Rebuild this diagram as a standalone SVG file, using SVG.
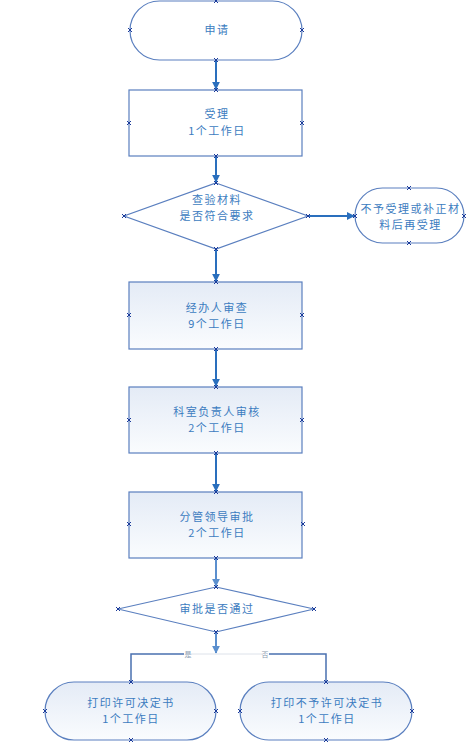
<svg xmlns="http://www.w3.org/2000/svg" width="472" height="745" viewBox="0 0 472 745">
<style>
.shape{stroke:#5a7fbf;stroke-width:1.2}
.plain{fill:#ffffff}
.grad{fill:url(#g)}
.t{font-family:"Noto Sans CJK SC","Liberation Sans",sans-serif;font-size:11px;letter-spacing:1.5px;fill:#3c7cc0;text-anchor:middle}
.lbl{font-family:"Noto Sans CJK SC","Liberation Serif",serif;font-size:7px;fill:#8a9ab0;text-anchor:middle}
.c{fill:none;stroke:#2a6fbd;stroke-width:2}
.c2{fill:none;stroke:#5b8fce;stroke-width:2}
.b{fill:none;stroke:#4a70b0;stroke-width:1.5}
.g{fill:none;stroke:#dde2ea;stroke-width:1}
.x{stroke:#1a3a9a;stroke-width:1;fill:none}
</style>
<defs>
<linearGradient id="g" x1="0" y1="0" x2="0" y2="1">
<stop offset="0" stop-color="#e4ebf6"/>
<stop offset="1" stop-color="#fafcfe"/>
</linearGradient>
<marker id="a" viewBox="0 0 10 10" refX="9" refY="5" markerWidth="4" markerHeight="4" orient="auto" markerUnits="strokeWidth">
<path d="M0,0 L10,5 L0,10 z" fill="#2a6fbd"/>
</marker>
<marker id="a2" viewBox="0 0 10 10" refX="9" refY="5" markerWidth="4" markerHeight="4" orient="auto" markerUnits="strokeWidth">
<path d="M0,0 L10,5 L0,10 z" fill="#5b8fce"/>
</marker>
<path id="xm" d="M-2,-2 L2,2 M-2,2 L2,-2"/>
</defs>

<g id="connectors">
<path class="c" d="M216,60 L216,89" marker-end="url(#a)"/>
<path class="c" d="M216,156 L216,182" marker-end="url(#a)"/>
<path class="c" d="M216,249 L216,281" marker-end="url(#a)"/>
<path class="c" d="M308,216 L354,216" marker-end="url(#a)"/>
<path class="c" d="M216,349 L216,386" marker-end="url(#a)"/>
<path class="c" d="M216,453 L216,491" marker-end="url(#a)"/>
<path class="c2" d="M216,558 L216,586" marker-end="url(#a2)"/>
<path class="c2" d="M216,632 L216,653" marker-end="url(#a2)"/>
<path class="g" d="M191,654 L262,654"/>
<path class="b" d="M184,654 L131,654 L131,682"/>
<path class="b" d="M269,654 L326,654 L326,682"/>
<text class="lbl" x="188" y="657">是</text>
<text class="lbl" x="265" y="657">否</text>
</g>

<g id="n1">
<rect class="shape plain" x="130" y="1" width="172" height="59" rx="29.5"/>
<text class="t" x="217" y="34">申请</text>
</g>
<g id="n2">
<rect class="shape plain" x="129" y="90" width="173" height="66"/>
<text class="t" x="217" y="118">受理</text>
<text class="t" x="217" y="134.5">1个工作日</text>
</g>
<g id="n3">
<polygon class="shape plain" points="216,183 308,216 216,249 124,216"/>
<text class="t" x="217" y="204">查验材料</text>
<text class="t" x="217" y="220">是否符合要求</text>
</g>
<g id="n4">
<rect class="shape plain" x="355" y="188" width="109" height="55" rx="27.5"/>
<text class="t" x="410.5" y="213">不予受理或补正材</text>
<text class="t" x="410.5" y="229">料后再受理</text>
</g>
<g id="n5">
<rect class="shape grad" x="129" y="282" width="173" height="67"/>
<text class="t" x="217" y="311.5">经办人审查</text>
<text class="t" x="217" y="327.5">9个工作日</text>
</g>
<g id="n6">
<rect class="shape grad" x="129" y="387" width="173" height="66"/>
<text class="t" x="217" y="416">科室负责人审核</text>
<text class="t" x="217" y="432">2个工作日</text>
</g>
<g id="n7">
<rect class="shape grad" x="129" y="492" width="173" height="66"/>
<text class="t" x="217" y="520.5">分管领导审批</text>
<text class="t" x="217" y="536.5">2个工作日</text>
</g>
<g id="n8">
<polygon class="shape plain" points="216,587 314,609 216,632 118,609"/>
<text class="t" x="217" y="613">审批是否通过</text>
</g>
<g id="n9">
<rect class="shape grad" x="45" y="682" width="171" height="58" rx="29"/>
<text class="t" x="131" y="707">打印许可决定书</text>
<text class="t" x="131" y="723">1个工作日</text>
</g>
<g id="n10">
<rect class="shape grad" x="240" y="682" width="172" height="58" rx="29"/>
<text class="t" x="327" y="707">打印不予许可决定书</text>
<text class="t" x="327" y="723">1个工作日</text>
</g>

<g id="points" class="x">
<use href="#xm" x="216" y="1"/><use href="#xm" x="130" y="30"/><use href="#xm" x="302" y="30"/><use href="#xm" x="216" y="60"/>
<use href="#xm" x="216" y="90"/><use href="#xm" x="129" y="123"/><use href="#xm" x="302" y="123"/><use href="#xm" x="216" y="156"/>
<use href="#xm" x="216" y="183"/><use href="#xm" x="124" y="216"/><use href="#xm" x="308" y="216"/><use href="#xm" x="216" y="249"/>
<use href="#xm" x="409" y="188"/><use href="#xm" x="355" y="216"/><use href="#xm" x="464" y="216"/><use href="#xm" x="409" y="243"/>
<use href="#xm" x="216" y="282"/><use href="#xm" x="129" y="315"/><use href="#xm" x="302" y="315"/><use href="#xm" x="216" y="349"/>
<use href="#xm" x="216" y="387"/><use href="#xm" x="129" y="420"/><use href="#xm" x="302" y="420"/><use href="#xm" x="216" y="453"/>
<use href="#xm" x="216" y="492"/><use href="#xm" x="129" y="524"/><use href="#xm" x="303" y="524"/><use href="#xm" x="216" y="558"/>
<use href="#xm" x="216" y="587"/><use href="#xm" x="118" y="609"/><use href="#xm" x="314" y="609"/><use href="#xm" x="216" y="632"/>
<use href="#xm" x="131" y="682"/><use href="#xm" x="45" y="711"/><use href="#xm" x="216" y="711"/><use href="#xm" x="131" y="740"/>
<use href="#xm" x="326" y="682"/><use href="#xm" x="240" y="711"/><use href="#xm" x="412" y="711"/><use href="#xm" x="326" y="740"/>
</g>
</svg>
